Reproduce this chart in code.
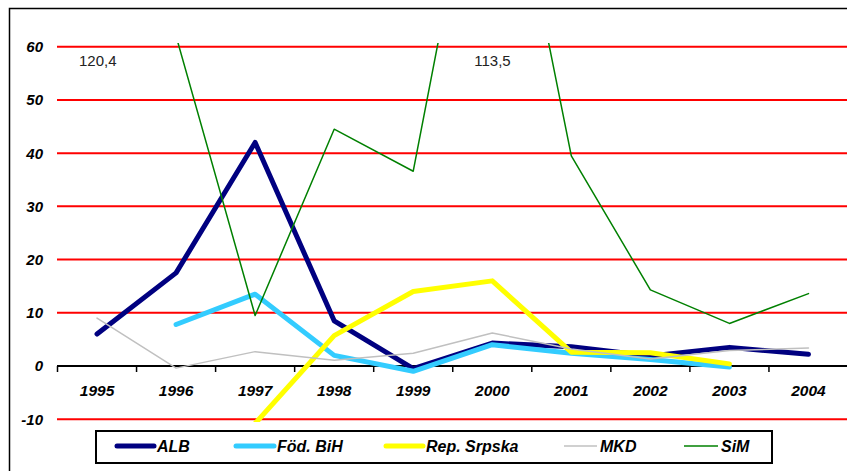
<!DOCTYPE html>
<html>
<head>
<meta charset="utf-8">
<script src="https://cdn.jsdelivr.net/npm/d3@7"></script>
<style>
  body { margin: 0; background: #fff; }
  svg { display: block; font-family: 'Liberation Sans', Arial, sans-serif; }
</style>
</head>
<body>
<div id="chart"></div>
<script>
const years = ['1995', '1996', '1997', '1998', '1999', '2000', '2001', '2002', '2003', '2004'];
const yTicks = [-10, 0, 10, 20, 30, 40, 50, 60];

const alb = [6, 17.5, 42, 8.5, -0.5, 4.3, 3.6, 1.9, 3.5, 2.2];
const fodBih = [null, 7.8, 13.5, 2, -1, 4, 2.4, 1.2, -0.2, null];
const repSrpska = [null, null, -10.8, 5.7, 14, 16, 2.6, 2.5, 0.4, null];
const mkd = [9, -0.4, 2.7, 1.1, 2.4, 6.2, 3.2, 1.3, 2.9, 3.4];
const sim = [120.4, 62, 9.5, 44.5, 36.6, 113.5, 39.5, 14.3, 8, 13.6];

const seriesNames = ['ALB', 'Föd. BiH', 'Rep. Srpska', 'MKD', 'SiM'];
const seriesValues = [alb, fodBih, repSrpska, mkd, sim];
const seriesColors = ['#000080', '#33CCFF', '#FFFF00', '#C0C0C0', '#008000'];
const seriesWidths = [5, 5, 5, 1.5, 1.5];
const offScaleLabels = [{ year: '1995', text: '120,4' }, { year: '2000', text: '113,5' }];

const width = 847;
const height = 471;

const svg = d3
  .select('#chart')
  .append('svg')
  .attr('width', width)
  .attr('height', height);

// outer chart frame (runs off the right and bottom edges)
svg
  .append('rect')
  .attr('x', 9.5)
  .attr('y', 8.5)
  .attr('width', 900)
  .attr('height', 500)
  .attr('fill', 'none')
  .attr('stroke', '#000')
  .attr('stroke-width', 1.5);

const x = d3
  .scaleBand()
  .domain(years)
  .range([57.5, 848]);

const y = d3
  .scaleLinear()
  .domain([0, 60])
  .range([366, 46.7]);

svg
  .append('defs')
  .append('clipPath')
  .attr('id', 'plot-clip')
  .append('rect')
  .attr('x', 57)
  .attr('y', y(60.7))
  .attr('width', 800)
  .attr('height', y(-10.5) - y(60.7));

// red gridlines
svg
  .append('g')
  .selectAll('line')
  .data(yTicks.filter(d => d !== 0))
  .join('line')
  .attr('x1', 57)
  .attr('x2', width)
  .attr('y1', d => y(d))
  .attr('y2', d => y(d))
  .attr('stroke', '#FF0000')
  .attr('stroke-width', 2);

// y labels
svg
  .append('g')
  .selectAll('text')
  .data(yTicks)
  .join('text')
  .attr('x', 43)
  .attr('y', d => y(d))
  .attr('dy', '0.36em')
  .attr('text-anchor', 'end')
  .attr('font-size', 15)
  .attr('font-weight', 'bold')
  .attr('font-style', 'italic')
  .text(d => d);

// x axis at zero
const xAxis = svg.append('g').attr('transform', `translate(0, ${y(0)})`);

xAxis
  .append('line')
  .attr('x1', 57)
  .attr('x2', width)
  .attr('stroke', '#000')
  .attr('stroke-width', 2);

xAxis
  .selectAll('.tick-mark')
  .data(years.map(d => x(d)))
  .join('line')
  .attr('class', 'tick-mark')
  .attr('x1', d => d)
  .attr('x2', d => d)
  .attr('y1', 0)
  .attr('y2', 6)
  .attr('stroke', '#000')
  .attr('stroke-width', 1.5);

xAxis
  .selectAll('text')
  .data(years)
  .join('text')
  .attr('x', d => x(d) + x.bandwidth() / 2)
  .attr('y', 24)
  .attr('dy', '0.36em')
  .attr('text-anchor', 'middle')
  .attr('font-size', 15.5)
  .attr('font-weight', 'bold')
  .attr('font-style', 'italic')
  .text(d => d);

// series lines
const line = d3
  .line()
  .defined(d => d.value !== null)
  .x(d => x(d.year) + x.bandwidth() / 2)
  .y(d => y(d.value));

const lines = svg.append('g').attr('clip-path', 'url(#plot-clip)');

seriesValues.forEach((values, i) => {
  lines
    .append('path')
    .datum(years.map((year, j) => ({ year, value: values[j] })))
    .attr('fill', 'none')
    .attr('stroke', seriesColors[i])
    .attr('stroke-width', seriesWidths[i])
    .attr('stroke-linejoin', 'round')
    .attr('stroke-linecap', 'round')
    .attr('d', line);
});

// labels for off-scale SiM values
svg
  .append('g')
  .selectAll('text')
  .data(offScaleLabels)
  .join('text')
  .attr('x', d => x(d.year) + x.bandwidth() / 2 - 18)
  .attr('y', 61)
  .attr('dy', '0.36em')
  .attr('font-size', 15)
  .attr('fill', '#222')
  .text(d => d.text);

// legend
const legend = svg.append('g');

legend
  .append('rect')
  .attr('x', 96)
  .attr('y', 431)
  .attr('width', 676)
  .attr('height', 32)
  .attr('fill', '#fff')
  .attr('stroke', '#000')
  .attr('stroke-width', 2);

const legendX = [117, 236, 386, 564, 684];
const legendLen = [37, 38, 37, 33, 34];

const item = legend
  .selectAll('.item')
  .data(seriesNames)
  .join('g')
  .attr('class', 'item')
  .attr('transform', (d, i) => `translate(${legendX[i]}, 446)`);

item
  .append('line')
  .attr('x1', 0)
  .attr('x2', (d, i) => legendLen[i])
  .attr('stroke', (d, i) => seriesColors[i])
  .attr('stroke-width', (d, i) => seriesWidths[i])
  .attr('stroke-linecap', (d, i) => (seriesWidths[i] > 2 ? 'round' : 'butt'));

item
  .append('text')
  .attr('x', (d, i) => legendLen[i] + 3)
  .attr('dy', '0.36em')
  .attr('font-size', 16)
  .attr('font-weight', 'bold')
  .attr('font-style', 'italic')
  .text(d => d);
</script>
</body>
</html>
